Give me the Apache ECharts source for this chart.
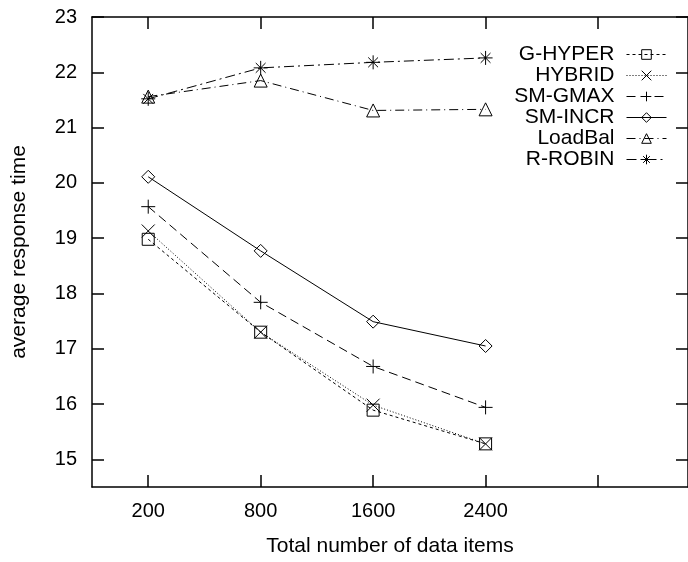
<!DOCTYPE html>
<html>
<head>
<meta charset="utf-8">
<script src="https://cdn.jsdelivr.net/npm/echarts@6/dist/echarts.min.js"></script>
<style>
  html, body { margin: 0; padding: 0; background: #fff; }
  #main { width: 688px; height: 562px; }
</style>
</head>
<body>
<div id="main"></div>
<script>
// data
const categories = ['200', '800', '1600', '2400'];
const xPositions = [1, 2, 3, 4];
const xTickPositions = [1, 2, 3, 4, 5];
const yTicks = [15, 16, 17, 18, 19, 20, 21, 22, 23];

const seriesNames = ['G-HYPER', 'HYBRID', 'SM-GMAX', 'SM-INCR', 'LoadBal', 'R-ROBIN'];
const gHyper = [18.98, 17.30, 15.89, 15.28];
const hybrid = [19.13, 17.30, 15.98, 15.28];
const smGmax = [19.57, 17.84, 16.68, 15.94];
const smIncr = [20.11, 18.77, 17.49, 17.05];
const loadBal = [21.56, 21.85, 21.31, 21.33];
const rRobin = [21.52, 22.08, 22.18, 22.26];

const FONT = '"Liberation Sans", Arial, Helvetica, sans-serif';

const chart = echarts.init(document.getElementById('main'), null, { renderer: 'canvas' });

// gnuplot-like point shapes
const marks = {
  square: 'path://M0,0L10,0L10,10L0,10Z',
  cross: 'path://M0,0L10,10M10,0L0,10',
  plus: 'path://M5,0L5,10M0,5L10,5',
  diamond: 'path://M5,0L10,5L5,10L0,5Z',
  triangle: 'path://M5,0L10,9L0,9Z',
  star: 'path://M5,0L5,10M0,5L10,5M1.5,1.5L8.5,8.5M8.5,1.5L1.5,8.5'
};

function makeSeries(name, values, symbol, size, dash) {
  return {
    name: name,
    type: 'line',
    data: values.map((v, i) => [xPositions[i], v]),
    symbol: symbol,
    symbolSize: size,
    showAllSymbol: true,
    lineStyle: { color: '#000', width: 1, type: dash },
    itemStyle: { color: 'rgba(0,0,0,0)', borderColor: '#000', borderWidth: 1 },
    emphasis: { disabled: true },
    animation: false
  };
}

const axisLineStyle = { color: '#000', width: 1.5 };

const option = {
  backgroundColor: '#fff',
  animation: false,
  grid: { left: 92, right: -5, top: 17, bottom: 71, containLabel: false },
  legend: {
    orient: 'vertical',
    right: 16,
    top: 39,
    align: 'right',
    itemWidth: 40,
    itemHeight: 12,
    itemGap: 0,
    selectedMode: false,
    data: seriesNames,
    lineStyle: { width: 1 },
    itemStyle: { borderWidth: 1 },
    textStyle: { fontSize: 21, fontFamily: FONT, color: '#000', padding: [0, 7, 0, 0] }
  },
  xAxis: [
    {
      type: 'value',
      min: 0.5,
      max: 5.8,
      name: 'Total number of data items',
      nameLocation: 'middle',
      nameGap: 49,
      nameTextStyle: { fontSize: 21, fontFamily: FONT, color: '#000' },
      axisLine: { lineStyle: axisLineStyle },
      axisTick: { inside: true, length: 12, lineStyle: axisLineStyle, customValues: xTickPositions },
      axisLabel: {
        fontSize: 20, fontFamily: FONT, color: '#000', margin: 14,
        customValues: xPositions,
        formatter: v => categories[xPositions.indexOf(v)] || ''
      },
      splitLine: { show: false }
    },
    {
      type: 'value',
      position: 'top',
      min: 0.5,
      max: 5.8,
      axisLine: { lineStyle: axisLineStyle },
      axisTick: { inside: true, length: 12, lineStyle: axisLineStyle, customValues: xTickPositions },
      axisLabel: { show: false },
      splitLine: { show: false }
    }
  ],
  yAxis: [
    {
      type: 'value',
      min: 14.5,
      max: 23,
      name: 'average response time',
      nameLocation: 'middle',
      nameGap: 62,
      nameTextStyle: { fontSize: 21, fontFamily: FONT, color: '#000' },
      axisLine: { show: true, lineStyle: axisLineStyle },
      axisTick: { show: true, inside: true, length: 12, lineStyle: axisLineStyle, customValues: yTicks },
      axisLabel: { fontSize: 20, fontFamily: FONT, color: '#000', margin: 15, customValues: yTicks },
      splitLine: { show: false }
    },
    {
      type: 'value',
      position: 'right',
      min: 14.5,
      max: 23,
      axisLine: { show: true, lineStyle: axisLineStyle },
      axisTick: { show: true, inside: true, length: 12, lineStyle: axisLineStyle, customValues: yTicks },
      axisLabel: { show: false },
      splitLine: { show: false }
    }
  ],
  series: [
    makeSeries(seriesNames[0], gHyper, marks.square, 12, [3, 3]),
    makeSeries(seriesNames[1], hybrid, marks.cross, 13, [1, 2]),
    makeSeries(seriesNames[2], smGmax, marks.plus, 14, [9, 5]),
    makeSeries(seriesNames[3], smIncr, marks.diamond, 13, 'solid'),
    makeSeries(seriesNames[4], loadBal, marks.triangle, 13, [9, 4, 1, 4]),
    makeSeries(seriesNames[5], rRobin, marks.star, 14, [10, 4, 2, 4])
  ]
};

chart.setOption(option);
</script>
</body>
</html>
